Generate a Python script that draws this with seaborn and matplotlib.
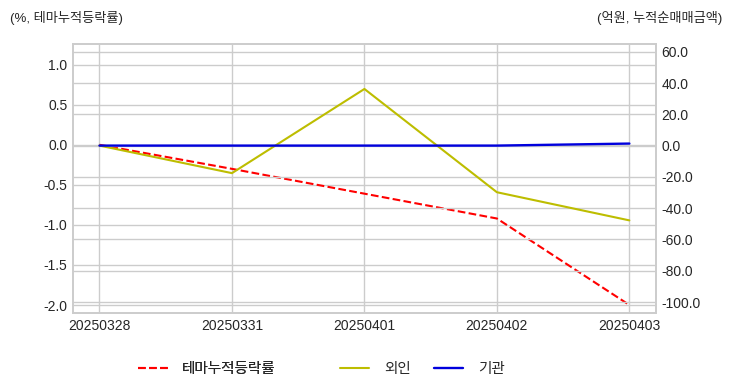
import numpy as np
import pandas as pd
import matplotlib
matplotlib.use('Agg')
import matplotlib.pyplot as plt
import seaborn as sns

# values
dates = ['20250328', '20250331', '20250401', '20250402', '20250403']
theme_return = [0.0, -0.30, -0.61, -0.92, -2.0]     # %, left axis
foreign_net = [0.0, -17.6, 36.2, -29.8, -47.8]      # 억원, right axis
institution_net = [0.0, 0.0, 0.0, 0.0, 1.3]         # 억원, right axis

left_ticks = [-2.0, -1.5, -1.0, -0.5, 0.0, 0.5, 1.0]
right_ticks = [-100, -80, -60, -40, -20, 0, 20, 40, 60]


def main():
    sns.set_style('whitegrid')
    plt.rcParams['font.family'] = ['Liberation Sans', 'Noto Sans CJK KR', 'DejaVu Sans']
    plt.rcParams['axes.unicode_minus'] = False

    df = pd.DataFrame({'date': dates, 'theme': theme_return,
                       'foreign': foreign_net, 'inst': institution_net})

    fig = plt.figure(figsize=(7.32, 3.92), dpi=100)
    ax1 = fig.add_axes([0.0997, 0.2015, 0.7963, 0.6865])
    ax2 = ax1.twinx()

    sns.lineplot(data=df, x='date', y='theme', ax=ax1, color='red', linestyle='--',
                 linewidth=1.5, label='테마누적등락률', legend=False)
    sns.lineplot(data=df, x='date', y='foreign', ax=ax2, color='#bdbd00',
                 linewidth=1.5, label='외인', legend=False)
    sns.lineplot(data=df, x='date', y='inst', ax=ax2, color='#0000dd',
                 linewidth=1.7, label='기관', legend=False)

    ax1.set_ylim(-2.1, 1.26)
    ax2.set_ylim(-107, 65)
    ax1.set_yticks(left_ticks)
    ax1.set_yticklabels([f'{v:.1f}' for v in left_ticks])
    ax2.set_yticks(right_ticks)
    ax2.set_yticklabels([f'{v:.1f}' for v in right_ticks])
    ax1.set_xlabel('')
    ax1.set_ylabel('')
    ax2.set_ylabel('')

    for ax in (ax1, ax2):
        ax.tick_params(labelsize=10, colors='#262626', length=0, pad=4)
        ax.grid(True, color='#cccccc', linewidth=1)
        for sp in ax.spines.values():
            sp.set_color('#cccccc')
            sp.set_linewidth(1.2)
    ax2.grid(axis='x', visible=False)

    fig.text(0.014, 0.955, '(%, 테마누적등락률)', fontsize=9.5, color='#262626', va='center')
    fig.text(0.986, 0.955, '(억원, 누적순매매금액)', fontsize=9.5, color='#262626',
             va='center', ha='right')

    h1, l1 = ax1.get_legend_handles_labels()
    h2, l2 = ax2.get_legend_handles_labels()
    leg1 = fig.legend(h1, l1, loc='center', bbox_to_anchor=(0.283, 0.059),
                      frameon=False, fontsize=10.5, handlelength=2.0, handletextpad=1.0)
    fig.add_artist(leg1)
    fig.legend(h2, l2, loc='center', bbox_to_anchor=(0.577, 0.059), ncol=2,
               frameon=False, fontsize=10.5, handlelength=2.0, handletextpad=1.0,
               columnspacing=1.6)

    fig.savefig('out.png', dpi=100)


if __name__ == '__main__':
    main()
